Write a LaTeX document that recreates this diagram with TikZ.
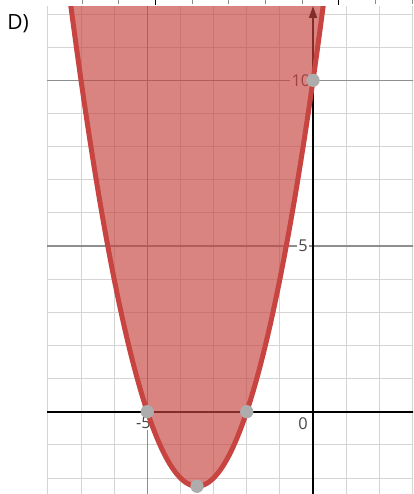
\documentclass[tikz,border=0pt]{standalone}
\usepackage{fontspec}
\setmainfont{Open Sans}
\usetikzlibrary{arrows.meta}
\definecolor{dred}{HTML}{C74440}
\definecolor{minorgrid}{HTML}{D4D4D4}
\definecolor{majorgrid}{HTML}{8E8E8E}
\definecolor{ptgray}{HTML}{ADADAD}
\tikzset{
  minorline/.style={draw=minorgrid, line width=0.8pt},
  majorline/.style={draw=majorgrid, line width=1.1pt},
  axisline/.style={draw=black, line width=1.6pt},
  ticklabel/.style={font=\fontsize{14}{14}\selectfont, text=black!72, fill=white, inner sep=1pt},
  gpoint/.style={circle, fill=ptgray, minimum size=0.4cm, inner sep=0pt},
  curveline/.style={draw=dred, line width=4.3pt},
  topticks/.style={draw=black!45, line width=0.6pt}
}
\begin{document}
\begin{tikzpicture}[x=1cm,y=1cm]
% bounding box = 413 x 494 px, 1 unit = 33.14 px, origin at px (313,411.7)
\useasboundingbox (-9.445,-2.483) rectangle (3.018,12.423);
% ticks of the strip above
\foreach \k in {0,...,9}{
  \pgfmathsetmacro{\xx}{(82+36.67*\k-313)/33.14}
  \draw[topticks] (\xx,12.423) -- (\xx,12.30);
}
\draw[topticks, draw=black, line width=1pt] ({(155.3-313)/33.14},12.423) -- ({(155.3-313)/33.14},12.28);
\draw[topticks, draw=black, line width=1pt] ({(338.6-313)/33.14},12.423) -- ({(338.6-313)/33.14},12.28);
\begin{scope}
\clip (-8.02,-2.483) rectangle (3.018,12.24);
% minor grid
\foreach \x in {-8,...,3} \draw[minorline] (\x,-3) -- (\x,13);
\foreach \y in {-2,...,12} \draw[minorline] (-9,\y) -- (4,\y);
% major grid
\draw[majorline] (-5,-3) -- (-5,13);
\draw[majorline] (-9,5) -- (4,5);
\draw[majorline] (-9,10) -- (4,10);
% axes
\draw[axisline] (-9,0) -- (4,0);
\coordinate (ybot) at (0,-3);
\coordinate (ytop) at (0,12.24);
\draw[axisline, -{Triangle[length=0.36cm,width=0.24cm]}] (ybot) -- (ytop);
% labels
\node[ticklabel, anchor=east] (l10) at (-0.04,10) {10};
\node[ticklabel, anchor=east] (l5) at (-0.12,5) {5};
\node[ticklabel, anchor=north east] (l0) at (-0.12,-0.14) {0};
\node[ticklabel, anchor=north] (lm5) at (-5.12,-0.12) {-5};
% fill
\fill[dred, fill opacity=0.66] plot[domain=-7.4:0.4, samples=120, smooth] (\x,{\x*\x+7*\x+10}) -- (0.4,13.5) -- (-7.4,13.5) -- cycle;
% curve
\draw[curveline] plot[domain=-7.4:0.4, samples=120, smooth] (\x,{\x*\x+7*\x+10});
\end{scope}
% points
\node[gpoint] (p1) at (-5,0) {};
\node[gpoint] (p2) at (-2,0) {};
\node[gpoint] (p3) at (-3.5,-2.25) {};
\node[gpoint] (p4) at (0,10) {};
% title
\node[font=\fontsize{18}{20}\selectfont, text=black] (title) at (-8.90,11.70) {D)};
\end{tikzpicture}
\end{document}
